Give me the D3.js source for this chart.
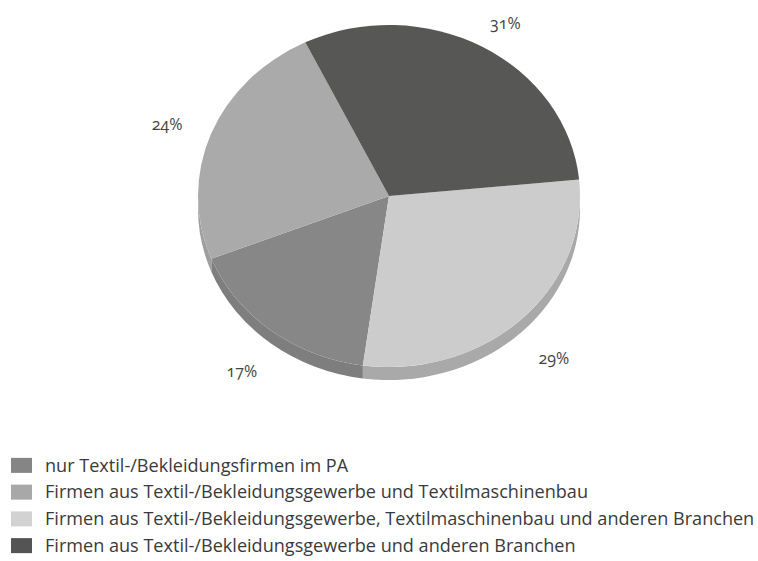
<!DOCTYPE html>
<html>
<head>
<meta charset="utf-8">
<script src="https://cdn.jsdelivr.net/npm/d3@7/dist/d3.min.js"></script>
<style>
  html, body { margin: 0; padding: 0; background: #ffffff; }
  svg { display: block; }
  text { font-family: "Open Sans", "Noto Sans", sans-serif; }
</style>
</head>
<body>
<svg id="chart" width="758" height="561"></svg>
<script>
// Categories in legend order, with their shares in percent
const categories = [
  "nur Textil-/Bekleidungsfirmen im PA",
  "Firmen aus Textil-/Bekleidungsgewerbe und Textilmaschinenbau",
  "Firmen aus Textil-/Bekleidungsgewerbe, Textilmaschinenbau und anderen Branchen",
  "Firmen aus Textil-/Bekleidungsgewerbe und anderen Branchen"
];
const values = [17, 24, 29, 31];
const valueLabels = ["17%", "24%", "29%", "31%"];
// Clockwise order of the slices around the pie
const sliceOrder = [3, 2, 0, 1];

const topColors  = ["#878787", "#a9aaa9", "#cbcccb", "#575756"];
const sideColors = ["#7e7e7e", "#9e9f9e", "#a8a9a8", "#4a4a4a"];
const legendColors = ["#858585", "#a8a8a8", "#d2d2d2", "#545454"];

const svg = d3.select("#chart");

// Tilted pie: ellipse top face plus a visible rim at the front
const cx = 389, cy = 196, rx = 191, ry = 171, depth = 13;
const startAngle = -26 * Math.PI / 180;

const pie = d3.pie()
  .sort((a, b) => sliceOrder.indexOf(a) - sliceOrder.indexOf(b))
  .value(i => values[i])
  .startAngle(startAngle)
  .endAngle(startAngle + 2 * Math.PI);

const arcs = pie(d3.range(values.length));

const pt = (a, dy = 0) => [cx + rx * Math.sin(a), cy - ry * Math.cos(a) + dy];

// Rim of each slice where it faces the viewer (angles between 90° and 270°)
function sidePath(d) {
  const c0 = Math.max(d.startAngle, Math.PI / 2);
  const c1 = Math.min(d.endAngle, 3 * Math.PI / 2);
  if (c1 <= c0) return null;
  const p0 = pt(c0), p1 = pt(c1), q1 = pt(c1, depth), q0 = pt(c0, depth);
  return `M${p0}A${rx},${ry} 0 0 1 ${p1}L${q1}A${rx},${ry} 0 0 0 ${q0}Z`;
}

const pieG = svg.append("g");

pieG.selectAll("path.side")
  .data(arcs.filter(d => sidePath(d)))
  .join("path")
  .attr("class", "side")
  .attr("d", sidePath)
  .attr("fill", d => sideColors[d.data]);

const arcGen = d3.arc().innerRadius(0).outerRadius(rx);

pieG.append("g")
  .attr("transform", `translate(${cx},${cy}) scale(1,${ry / rx})`)
  .selectAll("path.top")
  .data(arcs)
  .join("path")
  .attr("class", "top")
  .attr("d", arcGen)
  .attr("fill", d => topColors[d.data]);

// Percentage labels outside each slice
const labelRx = rx + 47, labelRy = ry + 27;
svg.append("g")
  .selectAll("text")
  .data(arcs)
  .join("text")
  .attr("x", d => {
    const m = (d.startAngle + d.endAngle) / 2;
    return cx + labelRx * Math.sin(m);
  })
  .attr("y", d => {
    const m = (d.startAngle + d.endAngle) / 2;
    const front = Math.cos(m) < 0 ? depth + 7 : 0;
    return cy - labelRy * Math.cos(m) + front;
  })
  .attr("dy", "0.35em")
  .attr("text-anchor", "middle")
  .style("font-size", "16px")
  .style("font-weight", "500")
  .style("font-stretch", "90%")
  .style("font-variant-numeric", "oldstyle-nums")
  .attr("fill", "#444444")
  .text(d => valueLabels[d.data]);

// Legend
const legendY = d3.scaleBand()
  .domain(d3.range(categories.length))
  .range([452, 559])
  .paddingInner(0);

const legend = svg.append("g");
const rows = legend.selectAll("g")
  .data(d3.range(categories.length))
  .join("g")
  .attr("transform", i => `translate(0,${legendY(i)})`);

const bw = legendY.bandwidth();
rows.append("rect")
  .attr("x", 11)
  .attr("y", (bw - 15) / 2)
  .attr("width", 21)
  .attr("height", 15)
  .attr("fill", i => legendColors[i]);

const texts = rows.append("text")
  .attr("x", 45)
  .attr("y", bw / 2)
  .attr("dy", "0.35em")
  .style("font-size", "16px")
  .style("font-stretch", "90%")
  .attr("fill", "#3a3a3a")
  .text(i => categories[i]);

// Size the legend text so the longest entry ends at the right margin
const longest = d3.max(texts.nodes(), n => n.getComputedTextLength());
const fs = 16 * (710 / longest);
texts.style("font-size", fs + "px");
</script>
</body>
</html>
